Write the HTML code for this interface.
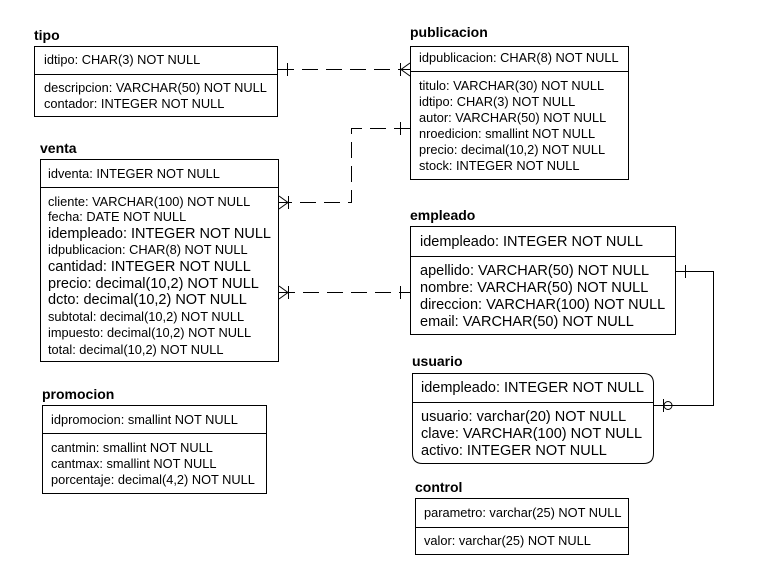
<!DOCTYPE html>
<html><head><meta charset="utf-8"><style>
html,body{margin:0;padding:0;background:#fff;}
svg text{font-family:"Liberation Sans",Arial,sans-serif;fill:#000;}
.t{font-weight:bold;font-size:14px;}
.s{font-size:12.8px;}
.b{font-size:14.5px;}
</style></head><body>
<svg width="769" height="579" xmlns="http://www.w3.org/2000/svg">
<g fill="none" stroke="#000" stroke-width="1">
<rect x="34.5" y="46.5" width="243" height="70"/><line x1="34" y1="74.5" x2="277" y2="74.5"/>
<rect x="410.5" y="46.5" width="218" height="133"/><line x1="410" y1="71.5" x2="628" y2="71.5"/>
<rect x="40.5" y="159.5" width="238" height="202"/><line x1="40" y1="187.5" x2="278" y2="187.5"/>
<rect x="410.5" y="226.5" width="265" height="108"/><line x1="410" y1="256.5" x2="675" y2="256.5"/>
<path d="M412.5 373.5 H643.5 Q653.5 373.5 653.5 383.5 V453.5 Q653.5 463.5 643.5 463.5 H422.5 Q412.5 463.5 412.5 453.5 Z"/>
<line x1="412" y1="402.5" x2="653" y2="402.5"/>
<rect x="42.5" y="405.5" width="224" height="88"/><line x1="42" y1="433.5" x2="266" y2="433.5"/>
<rect x="415.5" y="498.5" width="213" height="56"/><line x1="415" y1="527.5" x2="628" y2="527.5"/>

<line x1="278" y1="69.5" x2="410" y2="69.5" stroke-dasharray="16,8"/>
<line x1="287.5" y1="63" x2="287.5" y2="76"/>
<line x1="400.5" y1="63" x2="400.5" y2="76"/>
<path d="M410 63 L401 69.5 L410 76"/>

<path d="M410 128.5 H351.5 V202.5 H279" stroke-dasharray="16,8"/>
<line x1="400.5" y1="122" x2="400.5" y2="135"/>
<line x1="288.5" y1="196" x2="288.5" y2="209"/>
<path d="M279 196 L288 202.5 L279 209"/>

<line x1="279" y1="292.5" x2="410" y2="292.5" stroke-dasharray="16,8"/>
<line x1="400.5" y1="286" x2="400.5" y2="299"/>
<line x1="288.5" y1="286" x2="288.5" y2="299"/>
<path d="M279 286 L288 292.5 L279 299"/>

<path d="M675 271.5 H713.5 V405.5 H653"/>
<line x1="685.5" y1="265" x2="685.5" y2="278"/>
<line x1="663.5" y1="399" x2="663.5" y2="412"/>
<circle cx="668" cy="405.5" r="4"/>
</g>

<text class="t" x="34" y="40">tipo</text>
<text class="s" x="44" y="64">idtipo: CHAR(3) NOT NULL</text>
<text class="s" x="44" y="92">descripcion: VARCHAR(50) NOT NULL</text>
<text class="s" x="44" y="108">contador: INTEGER NOT NULL</text>

<text class="t" x="410" y="37">publicacion</text>
<text class="s" x="419" y="62">idpublicacion: CHAR(8) NOT NULL</text>
<text class="s" x="419" y="90">titulo: VARCHAR(30) NOT NULL</text>
<text class="s" x="419" y="106">idtipo: CHAR(3) NOT NULL</text>
<text class="s" x="419" y="122">autor: VARCHAR(50) NOT NULL</text>
<text class="s" x="419" y="138">nroedicion: smallint NOT NULL</text>
<text class="s" x="419" y="154">precio: decimal(10,2) NOT NULL</text>
<text class="s" x="419" y="170">stock: INTEGER NOT NULL</text>

<text class="t" x="40" y="153">venta</text>
<text class="s" x="48" y="178">idventa: INTEGER NOT NULL</text>
<text class="s" x="48" y="206">cliente: VARCHAR(100) NOT NULL</text>
<text class="s" x="48" y="221">fecha: DATE NOT NULL</text>
<text class="b" x="48" y="238">idempleado: INTEGER NOT NULL</text>
<text class="s" x="48" y="254">idpublicacion: CHAR(8) NOT NULL</text>
<text class="b" x="48" y="271">cantidad: INTEGER NOT NULL</text>
<text class="b" x="48" y="288">precio: decimal(10,2) NOT NULL</text>
<text class="b" x="48" y="304">dcto: decimal(10,2) NOT NULL</text>
<text class="s" x="48" y="321">subtotal: decimal(10,2) NOT NULL</text>
<text class="s" x="48" y="337">impuesto: decimal(10,2) NOT NULL</text>
<text class="s" x="48" y="354">total: decimal(10,2) NOT NULL</text>

<text class="t" x="410" y="220">empleado</text>
<text class="b" x="420" y="246">idempleado: INTEGER NOT NULL</text>
<text class="b" x="420" y="275">apellido: VARCHAR(50) NOT NULL</text>
<text class="b" x="420" y="292">nombre: VARCHAR(50) NOT NULL</text>
<text class="b" x="420" y="309">direccion: VARCHAR(100) NOT NULL</text>
<text class="b" x="420" y="326">email: VARCHAR(50) NOT NULL</text>

<text class="t" x="412" y="366">usuario</text>
<text class="b" x="421" y="392">idempleado: INTEGER NOT NULL</text>
<text class="b" x="421" y="421">usuario: varchar(20) NOT NULL</text>
<text class="b" x="421" y="438">clave: VARCHAR(100) NOT NULL</text>
<text class="b" x="421" y="455">activo: INTEGER NOT NULL</text>

<text class="t" x="42" y="399">promocion</text>
<text class="s" x="51" y="424">idpromocion: smallint NOT NULL</text>
<text class="s" x="51" y="452">cantmin: smallint NOT NULL</text>
<text class="s" x="51" y="468">cantmax: smallint NOT NULL</text>
<text class="s" x="51" y="484">porcentaje: decimal(4,2) NOT NULL</text>

<text class="t" x="415" y="492">control</text>
<text class="s" x="424" y="517">parametro: varchar(25) NOT NULL</text>
<text class="s" x="424" y="545">valor: varchar(25) NOT NULL</text>
</svg>
</body></html>
